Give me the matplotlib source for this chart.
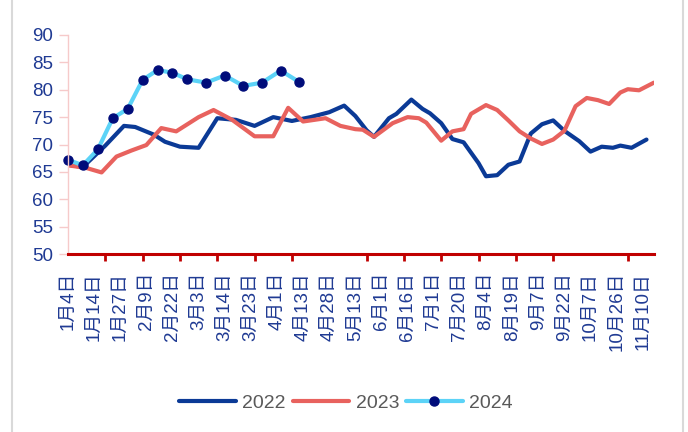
import matplotlib
matplotlib.use("Agg")
import matplotlib.pyplot as plt
from matplotlib.lines import Line2D

plt.rcParams['font.family'] = ['Liberation Sans', 'Noto Sans CJK SC', 'DejaVu Sans']

# 日期轴（按日序号），每7个显示一个标签
date_labels = ["1月4日", "1月14日", "1月27日", "2月9日", "2月22日", "3月3日", "3月14日",
               "3月23日", "4月1日", "4月13日", "4月28日", "5月13日", "6月1日", "6月16日",
               "7月1日", "7月20日", "8月4日", "8月19日", "9月7日", "9月22日", "10月7日",
               "10月26日", "11月10日"]
n_days = 158

x_2022 = [0, 4, 10, 15, 18, 23, 26, 30, 35, 40, 45, 50, 55, 60, 65, 70, 74, 77, 80, 82,
          86, 88, 92, 95, 97, 100, 103, 106, 110, 112, 115, 118, 121, 124, 127, 130, 133,
          137, 140, 143, 146, 148, 151, 155]
y_2022 = [66.3, 65.9, 69.8, 73.4, 73.2, 71.8, 70.5, 69.6, 69.4, 74.8, 74.5, 73.4, 75.0,
          74.3, 75.0, 75.9, 77.1, 75.2, 72.6, 71.4, 74.8, 75.6, 78.2, 76.5, 75.7, 73.9,
          71.0, 70.4, 66.6, 64.2, 64.4, 66.3, 66.9, 72.0, 73.7, 74.4, 72.5, 70.6, 68.7,
          69.6, 69.4, 69.8, 69.4, 70.9]

x_2023 = [0, 5, 9, 13, 17, 21, 25, 29, 35, 39, 44, 50, 55, 59, 63, 69, 73, 77, 79, 82,
          87, 91, 94, 96, 100, 103, 106, 108, 112, 115, 118, 121, 124, 127, 130, 133, 136,
          139, 142, 145, 148, 150, 153, 157]
y_2023 = [66.2, 65.7, 64.9, 67.8, 68.9, 69.9, 73.0, 72.4, 75.0, 76.3, 74.5, 71.5, 71.5,
          76.7, 74.2, 74.8, 73.4, 72.8, 72.7, 71.4, 73.9, 75.0, 74.8, 74.0, 70.7, 72.4,
          72.8, 75.6, 77.2, 76.3, 74.4, 72.4, 71.1, 70.1, 70.9, 72.5, 77.0, 78.5, 78.1,
          77.4, 79.5, 80.1, 79.9, 81.3]

x_2024 = [0, 4, 8, 12, 16, 20, 24, 28, 32, 37, 42, 47, 52, 57, 62]
y_2024 = [67.2, 66.2, 69.1, 74.8, 76.5, 81.8, 83.6, 83.1, 81.9, 81.3, 82.6, 80.7, 81.3,
          83.5, 81.4]

tick_color = '#1F3A93'

fig = plt.figure(figsize=(6.88, 4.32), dpi=100)
ax = fig.add_axes([0.0988, 0.412, 0.8517, 0.507])

ax.plot(x_2022, y_2022, color='#0B3A96', lw=3, label='2022', solid_capstyle='round')
ax.plot(x_2023, y_2023, color='#E8625E', lw=3, label='2023', solid_capstyle='round')
ax.plot(x_2024, y_2024, color='#5CD3F7', lw=3, marker='o', ms=6.5, solid_capstyle='round',
        mfc='#000C7A', mec='#000C7A', label='2024', clip_on=False)

ax.set_xlim(0, n_days - 1)
ax.set_ylim(50, 90)
ax.set_yticks(range(50, 91, 5))

ax.set_xticks(range(0, 7 * len(date_labels), 7))
ax.set_xticklabels(date_labels, rotation=90, ha='center', va='top')
ax.set_xticks(range(0, n_days - 1, 10), minor=True)

ax.tick_params(axis='x', which='major', length=0, pad=13, labelsize=13.5, labelcolor=tick_color)
ax.tick_params(axis='x', which='minor', length=5, width=2, color='#C00000', direction='out')
ax.tick_params(axis='y', length=6.5, width=1, color='#F6CACA', pad=4,
               labelsize=13.5, labelcolor=tick_color)

for s in ['top', 'right']:
    ax.spines[s].set_visible(False)
ax.spines['left'].set_color('#F6CACA')
ax.spines['left'].set_linewidth(1)
ax.spines['bottom'].set_color('#C00000')
ax.spines['bottom'].set_linewidth(2.2)

leg = fig.legend(loc='center', bbox_to_anchor=(0.503, 0.067), ncol=3, frameon=False,
                 fontsize=14, handlelength=2.9, handletextpad=0.35, columnspacing=0.35)
for t in leg.get_texts():
    t.set_color('#595959')

# 两侧灰色边框
fig.add_artist(Line2D([0.017, 0.017], [0, 1], color='#D9D9D9', lw=1.5))
fig.add_artist(Line2D([0.993, 0.993], [0, 1], color='#D9D9D9', lw=1.5))

fig.savefig('out.png', dpi=100)
